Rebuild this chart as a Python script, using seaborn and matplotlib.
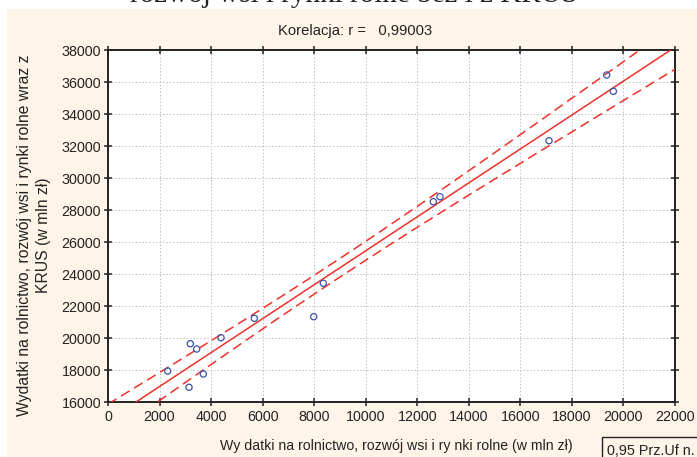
import numpy as np
import pandas as pd
import matplotlib
matplotlib.use("Agg")
import matplotlib.pyplot as plt
from matplotlib.patches import Rectangle
import seaborn as sns

# ---- data ----
x_vals = [2316, 3194, 3441, 3143, 3699, 4384, 5677, 7981, 8354,
          12622, 12882, 17111, 19349, 19608]
y_vals = [17937, 19644, 19312, 16917, 17750, 20019, 21231, 21331, 23419,
          28519, 28831, 32331, 36437, 35419]
x_ticks = list(range(0, 22001, 2000))
y_ticks = list(range(16000, 38001, 2000))
title_text = "Korelacja: r =   0,99003"
top_title = "rozwój wsi i rynki rolne bez i z KRUS"
xlabel = "Wy datki na rolnictwo, rozwój wsi i ry nki rolne (w mln zł)"
ylabel = "Wydatki na rolnictwo, rozwój wsi i rynki rolne wraz z\nKRUS (w mln zł)"
ci_label = "0,95 Prz.Uf n."
t_crit = 2.179  # t(0.975, df=12)

df = pd.DataFrame({"x": x_vals, "y": y_vals})

# ---- OLS fit and 95% confidence band of the mean ----
x = np.asarray(x_vals, float)
y = np.asarray(y_vals, float)
n = len(x)
b, a = np.polyfit(x, y, 1)
resid = y - (a + b * x)
s = np.sqrt(np.sum(resid ** 2) / (n - 2))
sxx = np.sum((x - x.mean()) ** 2)
xs = np.linspace(x_ticks[0], x_ticks[-1], 200)
yhat = a + b * xs
half = t_crit * s * np.sqrt(1.0 / n + (xs - x.mean()) ** 2 / sxx)
fit_df = pd.DataFrame({"x": xs, "fit": yhat, "lo": yhat - half, "hi": yhat + half})

# ---- figure ----
sns.set_theme(style="white")
plt.rcParams["font.family"] = ["Liberation Sans", "DejaVu Sans"]

W, H = 697, 457
fig = plt.figure(figsize=(W / 100, H / 100), dpi=100)
fig.patch.set_facecolor("white")
cream = "#FEF5E8"
fig.patches.append(Rectangle((7 / W, 0), 1, 1 - 9 / H, transform=fig.transFigure,
                             facecolor=cream, edgecolor="none", zorder=-10))

ax = fig.add_axes([108 / W, 1 - 402 / H, (675 - 108) / W, (402 - 50) / H])
ax.set_facecolor("white")

red = "#EE3129"
blue = "#3A52A8"
sns.lineplot(data=fit_df, x="x", y="fit", color=red, linewidth=1.1, ax=ax, zorder=3)
for col in ["lo", "hi"]:
    sns.lineplot(data=fit_df, x="x", y=col, color=red, linewidth=1.1,
                 linestyle=(0, (6.5, 3.5)), ax=ax, zorder=3)
sns.scatterplot(data=df, x="x", y="y", marker="o", s=20, facecolors="none",
                edgecolor=blue, linewidth=0.9, ax=ax, zorder=4)

ax.set_xlim(x_ticks[0], x_ticks[-1])
ax.set_ylim(y_ticks[0], y_ticks[-1])
ax.set_xticks(x_ticks)
ax.set_yticks(y_ticks)
ax.set_xlabel("")
ax.set_ylabel("")
ax.grid(True, color="#C0C0C0", linestyle=(0, (1.5, 2)), linewidth=0.7)
ax.set_axisbelow(True)
for sp in ax.spines.values():
    sp.set_visible(True)
    sp.set_color("#222222")
    sp.set_linewidth(1.4)
ax.tick_params(axis="both", direction="inout", length=6, width=1.1, color="#222222",
               labelsize=10.3, labelcolor="#222222", top=True, right=True,
               bottom=True, left=True)
ax.tick_params(axis="x", pad=3)
ax.tick_params(axis="y", pad=2)

fig.text(355 / W, 1 - 31 / H, title_text, ha="center", va="center",
         fontsize=10.6, color="#222222")
fig.text(354 / W, 1 - 2 / H, top_title, ha="center", va="baseline",
         fontsize=21, color="#222222", family=["Liberation Serif", "DejaVu Serif"])
fig.text(396 / W, 1 - 446 / H, xlabel, ha="center", va="center",
         fontsize=10.2, color="#222222")
fig.text(34 / W, 1 - 235 / H, ylabel, ha="center", va="center", rotation=90,
         fontsize=11.3, color="#222222", multialignment="center", linespacing=1.3)
fig.patches.append(Rectangle((602 / W, -0.05), 0.2, 0.05 + 1 - 437 / H,
                             transform=fig.transFigure, facecolor="none",
                             edgecolor="#222222", linewidth=1.0, zorder=5))
fig.text(607 / W, 1 - 451 / H, ci_label, ha="left", va="center",
         fontsize=10.4, color="#222222")

fig.savefig("out.png", dpi=100)
